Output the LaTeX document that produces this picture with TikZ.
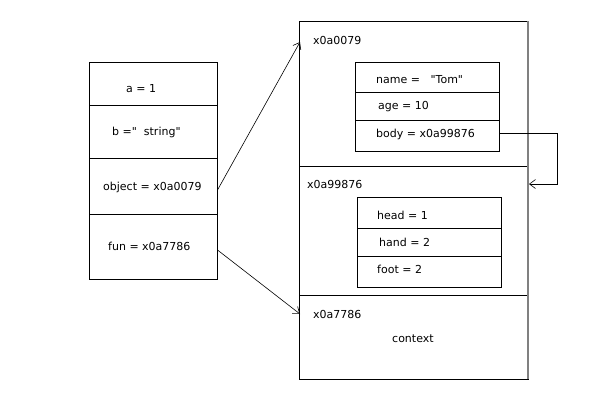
\documentclass[tikz,border=0pt]{standalone}
\usepackage{fontspec}
\setmainfont{DejaVu Sans}[Ligatures=TeXOff]
\usetikzlibrary{arrows.meta}
\begin{document}
\begin{tikzpicture}[x=1pt,y=-1pt,
  every node/.style={font=\fontsize{11}{13}\selectfont},
  cellbox/.style={draw,line width=0.8pt,inner sep=0pt,outer sep=0pt},
  txt/.style={anchor=base west,inner sep=0pt},
  arr/.style={line width=0.6pt,-{Straight Barb[length=6pt,width=9pt]}}]
\useasboundingbox (0,0) rectangle (600,400);
% left box
\node[cellbox,minimum width=128pt,minimum height=43pt] (l1) at (153,83.5) {};
\node[cellbox,minimum width=128pt,minimum height=53pt] (l2) at (153,131.5) {};
\node[cellbox,minimum width=128pt,minimum height=56pt] (l3) at (153,186) {};
\node[cellbox,minimum width=128pt,minimum height=65pt] (l4) at (153,246.5) {};
\node[txt] (ta) at (126,92) {a = 1};
\node[txt] (tb) at (112,135) {b ="\ \ string"};
\node[txt] (tobj) at (103,190) {object = x0a0079};
\node[txt] (tfun) at (108,250) {fun = x0a7786};
% big box
\node[cellbox,minimum width=229pt,minimum height=145pt] (s1) at (413.5,93.5) {};
\node[cellbox,minimum width=229pt,minimum height=129pt] (s2) at (413.5,230.5) {};
\node[cellbox,minimum width=229pt,minimum height=84pt] (s3) at (413.5,337) {};
\draw[gray,line width=1.6pt] (s1.north east) -- (s3.south east);
\node[txt] (h1) at (313,44) {x0a0079};
\node[txt] (h2) at (307,188) {x0a99876};
\node[txt] (h3) at (313,318) {x0a7786};
\node[txt] (ctx) at (392,342) {context};
% inner box 1
\node[cellbox,minimum width=144pt,minimum height=30pt] (i1) at (427,77) {};
\node[cellbox,minimum width=144pt,minimum height=28pt] (i2) at (427,106) {};
\node[cellbox,minimum width=144pt,minimum height=31pt] (i3) at (427,135.5) {};
\node[txt] (tname) at (376,83) {name = \ \ "Tom"};
\node[txt] (tage) at (378,109) {age = 10};
\node[txt] (tbody) at (376,137) {body = x0a99876};
% inner box 2
\node[cellbox,minimum width=144pt,minimum height=31pt] (j1) at (429,212.5) {};
\node[cellbox,minimum width=144pt,minimum height=28pt] (j2) at (429,242) {};
\node[cellbox,minimum width=144pt,minimum height=31pt] (j3) at (429,271.5) {};
\node[txt] (thead) at (377,219) {head = 1};
\node[txt] (thand) at (379,246) {hand = 2};
\node[txt] (tfoot) at (377,273) {foot = 2};
% connectors
\coordinate (objout) at (217.5,190);
\coordinate (objin) at (300,42);
\coordinate (funout) at (217.5,250);
\coordinate (funin) at (300,314);
\coordinate (bodyout) at (499.5,133);
\coordinate (bodyturn) at (557,133);
\coordinate (bodyin) at (529,184);
\draw[arr] (objout) -- (objin);
\draw[arr] (funout) -- (funin);
\draw[arr] (bodyout) -- (bodyturn) |- (bodyin);
\end{tikzpicture}
\end{document}
